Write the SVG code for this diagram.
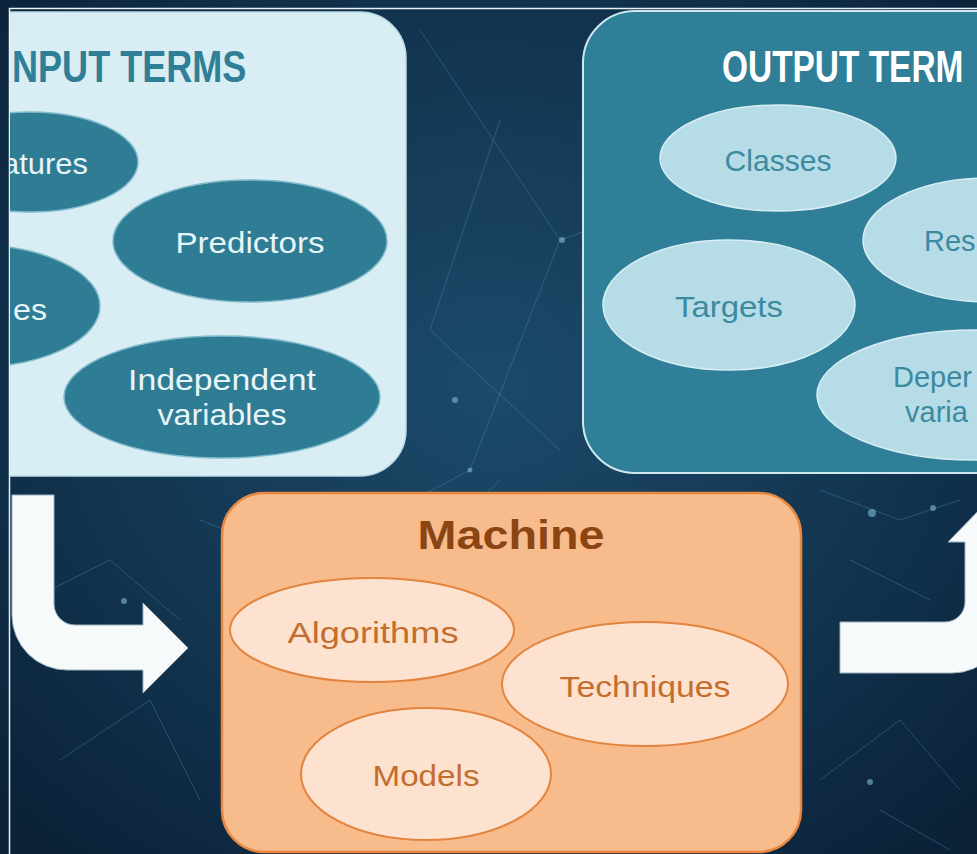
<svg xmlns="http://www.w3.org/2000/svg" width="977" height="854" viewBox="0 0 977 854">
<defs>
  <radialGradient id="bg" cx="50%" cy="45%" r="70%">
    <stop offset="0" stop-color="#1c4a6a"/>
    <stop offset="0.6" stop-color="#12344f"/>
    <stop offset="1" stop-color="#0b2238"/>
  </radialGradient>
  <clipPath id="frameClip"><rect x="10" y="9" width="967" height="845"/></clipPath>
  <style>
    .lbl{font-family:"Liberation Sans","DejaVu Sans",sans-serif;font-size:29px;text-anchor:middle}
    .ttl{font-family:"Liberation Sans","DejaVu Sans",sans-serif;font-weight:bold}
    .inEl{fill:#2e7d94;stroke:#7fb9ca;stroke-width:1.5}
    .inTx{fill:#e8f4f8}
    .outEl{fill:#b5dce7;stroke:#d8eef4;stroke-width:1.5}
    .outTx{fill:#3d8aa0}
    .mEl{fill:#fde3cf;stroke:#e2843f;stroke-width:2}
    .mTx{fill:#c46d2e}
    .arrow{fill:#f7fafb;stroke:#9fb3bf;stroke-width:1}
    .net{stroke:#5a9cc4;stroke-width:1;opacity:0.35;fill:none}
    .dot{fill:#8cc7e8;opacity:0.55}
  </style>
</defs>

<!-- background -->
<rect x="0" y="0" width="977" height="854" fill="url(#bg)"/>
<g id="background-network">
  <path class="net" d="M420,30 L560,240 L470,470 M560,240 L760,170 M500,120 L430,330 L560,450 M470,470 L300,560 L200,520 M820,490 L900,520 L960,500 M850,560 L930,600 M30,600 L110,560 L180,620 M60,760 L150,700 L200,800 M820,780 L900,720 L960,790 M440,540 L500,480 M880,810 L950,850"/>
  <circle class="dot" cx="562" cy="240" r="3"/>
  <circle class="dot" cx="455" cy="400" r="3"/>
  <circle class="dot" cx="872" cy="513" r="4"/>
  <circle class="dot" cx="933" cy="508" r="3"/>
  <circle class="dot" cx="124" cy="601" r="3"/>
  <circle class="dot" cx="470" cy="470" r="2.5"/>
  <circle class="dot" cx="870" cy="782" r="3"/>
</g>
<!-- frame -->
<path d="M9.5,854 V8.5 H977" fill="none" stroke="#e9f1f5" stroke-width="1.5"/>

<g clip-path="url(#frameClip)">
<!-- INPUT TERMS -->
<g id="input-terms">
  <rect x="-40" y="12" width="446" height="464" rx="46" fill="#d9edf4" stroke="#b9dbe6" stroke-width="1.5"/>
  <text class="ttl" transform="translate(12,82) scale(0.82,1)" x="0" y="0" font-size="44" fill="#2f7f96">NPUT TERMS</text>
  <g id="in-features">
    <ellipse class="inEl" cx="30" cy="162" rx="108" ry="50"/>
    <text class="lbl inTx" x="88" y="174" style="text-anchor:end" textLength="86" lengthAdjust="spacingAndGlyphs">atures</text>
  </g>
  <g id="in-predictors">
    <ellipse class="inEl" cx="250" cy="241" rx="137" ry="61"/>
    <text class="lbl inTx" x="250" y="253" textLength="149" lengthAdjust="spacingAndGlyphs">Predictors</text>
  </g>
  <g id="in-attributes">
    <ellipse class="inEl" cx="-25" cy="306" rx="125" ry="61"/>
    <text class="lbl inTx" x="47" y="320" style="text-anchor:end" textLength="34" lengthAdjust="spacingAndGlyphs">es</text>
  </g>
  <g id="in-independent">
    <ellipse class="inEl" cx="222" cy="397" rx="158" ry="61"/>
    <text class="lbl inTx" x="222" y="390" textLength="188" lengthAdjust="spacingAndGlyphs">Independent</text>
    <text class="lbl inTx" x="222" y="425" textLength="129" lengthAdjust="spacingAndGlyphs">variables</text>
  </g>
</g>

<!-- OUTPUT TERMS -->
<g id="output-terms">
  <rect x="583" y="11" width="460" height="462" rx="52" fill="#2e7f97" stroke="#cfe8ef" stroke-width="2"/>
  <text class="ttl" transform="translate(722,82) scale(0.76,1)" x="0" y="0" font-size="44" fill="#ffffff">OUTPUT TERM</text>
  <g id="out-classes">
    <ellipse class="outEl" cx="778" cy="158" rx="118" ry="53"/>
    <text class="lbl outTx" x="778" y="171" textLength="107" lengthAdjust="spacingAndGlyphs">Classes</text>
  </g>
  <g id="out-responses">
    <ellipse class="outEl" cx="990" cy="240" rx="127" ry="62"/>
    <text class="lbl outTx" x="924" y="251" style="text-anchor:start">Res</text>
  </g>
  <g id="out-targets">
    <ellipse class="outEl" cx="729" cy="305" rx="126" ry="65"/>
    <text class="lbl outTx" x="729" y="317" textLength="108" lengthAdjust="spacingAndGlyphs">Targets</text>
  </g>
  <g id="out-dependent">
    <ellipse class="outEl" cx="975" cy="395" rx="158" ry="65"/>
    <text class="lbl outTx" x="893" y="387" style="text-anchor:start">Deper</text>
    <text class="lbl outTx" x="905" y="422" style="text-anchor:start">varia</text>
  </g>
</g>
</g>

<!-- MACHINE -->
<g id="machine">
  <rect x="222" y="493" width="579" height="359" rx="42" fill="#f8bb8b" stroke="#e8873f" stroke-width="2.5"/>
  <text class="ttl" x="511" y="549" font-size="40" fill="#8a4512" text-anchor="middle" textLength="187" lengthAdjust="spacingAndGlyphs">Machine</text>
  <g id="m-algorithms">
    <ellipse class="mEl" cx="372" cy="630" rx="142" ry="52"/>
    <text class="lbl mTx" x="373" y="643" textLength="171" lengthAdjust="spacingAndGlyphs">Algorithms</text>
  </g>
  <g id="m-techniques">
    <ellipse class="mEl" cx="645" cy="684" rx="143" ry="62"/>
    <text class="lbl mTx" x="645" y="697" textLength="171" lengthAdjust="spacingAndGlyphs">Techniques</text>
  </g>
  <g id="m-models">
    <ellipse class="mEl" cx="426" cy="774" rx="125" ry="66"/>
    <text class="lbl mTx" x="426" y="786" textLength="107" lengthAdjust="spacingAndGlyphs">Models</text>
  </g>
</g>

<!-- connectors -->
<g id="connectors">
  <path class="arrow" d="M12,495 H54 V604 A21,21 0 0 0 75,625 H143 V603 L188,648 L143,693 V670 H67 A55,55 0 0 1 12,615 Z"/>
  <path class="arrow" d="M840,622 H945 A20,20 0 0 0 965,602 V542 H948 L986,503 L1024,542 H1007 V618 A55,55 0 0 1 952,673 H840 Z"/>
</g>
</svg>
